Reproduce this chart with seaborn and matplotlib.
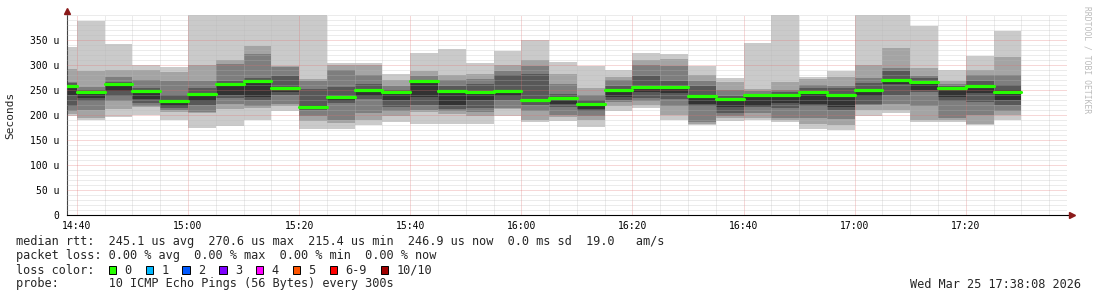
import numpy as np
import pandas as pd
import matplotlib
matplotlib.use("Agg")
import matplotlib.pyplot as plt
import matplotlib.dates as mdates
from matplotlib.patches import Rectangle
from matplotlib.ticker import FixedLocator, MultipleLocator
import seaborn as sns

# ---------------- data (microseconds) ----------------
bar_start = pd.date_range("2026-03-25 14:35", periods=35, freq="5min")
bar_end = bar_start + pd.Timedelta(minutes=5)

# 10 sorted pings per 5-minute step (p1 = fastest, p10 = slowest)
p1 = [198, 191, 196, 199, 191, 175, 179, 190, 208, 172, 172, 181, 187, 182, 183, 183, 198, 187,
      189, 177, 207, 213, 190, 180, 189, 190, 187, 172, 171, 197, 203, 187, 187, 180, 191]
p2 = [202, 194, 212, 215, 205, 203, 212, 213, 217, 188, 185, 191, 197, 205, 202, 198, 211, 190,
      195, 190, 217, 220, 200, 183, 193, 193, 190, 182, 180, 210, 210, 190, 190, 183, 200]
p3 = [207, 209, 227, 218, 210, 205, 222, 217, 221, 197, 190, 203, 207, 210, 207, 205, 213, 207,
      200, 197, 225, 228, 217, 186, 197, 203, 194, 193, 192, 220, 222, 217, 193, 200, 207]
p4 = [218, 227, 238, 223, 214, 220, 233, 229, 239, 210, 223, 232, 215, 220, 212, 214, 230, 220,
      215, 207, 230, 233, 232, 218, 203, 215, 213, 218, 210, 222, 240, 245, 227, 225, 220]
p5 = [240, 233, 248, 232, 218, 228, 240, 235, 245, 213, 228, 238, 229, 235, 220, 230, 238, 225,
      222, 211, 235, 245, 243, 222, 216, 218, 223, 222, 215, 238, 262, 250, 235, 243, 230]
p6 = [260, 246, 262, 248, 227, 242, 260, 266, 254, 220, 236, 250, 246, 267, 248, 246, 247, 230,
      234, 222, 248, 256, 256, 236, 230, 238, 240, 244, 238, 248, 271, 266, 254, 258, 250]
p7 = [263, 250, 265, 254, 240, 253, 268, 273, 277, 252, 255, 262, 250, 268, 258, 262, 280, 281,
      242, 229, 258, 278, 268, 258, 238, 242, 245, 254, 253, 263, 287, 273, 258, 268, 260]
p8 = [266, 255, 276, 270, 267, 268, 301, 322, 295, 268, 290, 280, 257, 278, 270, 272, 288, 298,
      262, 240, 270, 300, 298, 268, 250, 248, 250, 260, 258, 273, 293, 277, 262, 280, 280]
p9 = [291, 287, 290, 290, 285, 299, 310, 337, 298, 272, 300, 299, 270, 287, 280, 282, 300, 310,
      282, 253, 276, 310, 311, 280, 266, 252, 266, 272, 276, 300, 334, 294, 267, 290, 316]
p10 = [336, 388, 342, 300, 296, 450, 460, 470, 480, 490, 303, 303, 282, 324, 331, 303, 328, 350,
       305, 298, 290, 323, 321, 298, 273, 343, 500, 276, 287, 520, 480, 379, 289, 318, 368]
median_rtt = [258, 245, 261, 247, 227, 241, 261, 267, 253, 215.4, 235, 250, 245, 267, 247, 245,
              248, 229, 233, 221, 249, 255, 256, 237, 231, 239, 240, 245, 239, 249, 270.6, 265,
              253, 257, 246.9]

y_ticks = [0, 50, 100, 150, 200, 250, 300, 350]
y_tick_labels = ["0", "50 u", "100 u", "150 u", "200 u", "250 u", "300 u", "350 u"]

loss_labels = ["0", "1", "2", "3", "4", "5", "6-9", "10/10"]
loss_colors = ["#26ff00", "#00b8ff", "#0059ff", "#7e00ff", "#ff00ff", "#ff5500", "#ff0000", "#a00000"]

legend_lines = [
    "median rtt:  245.1 us avg  270.6 us max  215.4 us min  246.9 us now  0.0 ms sd  19.0   am/s",
    "packet loss: 0.00 % avg  0.00 % max  0.00 % min  0.00 % now",
    "loss color:",
    "probe:       10 ICMP Echo Pings (56 Bytes) every 300s",
]
stamp = "Wed Mar 25 17:38:08 2026"

# ---------------- style ----------------
sns.set_theme(style="white")
plt.rcParams["font.family"] = ["DejaVu Sans Mono", "DejaVu Sans"]

W, H = 1097, 297
fig = plt.figure(figsize=(W / 100, H / 100), dpi=100)
fig.patch.set_facecolor("white")
ax = fig.add_axes([66.5 / W, (H - 215) / H, 1000 / W, 200 / H])
ax.set_facecolor("white")

# smoke layers
pings = [p1, p2, p3, p4, p5, p6, p7, p8, p9, p10]
smoke_cols = ["#cacaca", "#a4a4a4", "#7e7e7e", "#585858", "#323232"]
edges = list(bar_start) + [bar_end[-1]]
for i in range(5):
    lo = np.array(pings[i], dtype=float)
    hi = np.array(pings[9 - i], dtype=float)
    ax.fill_between(edges, np.append(lo, lo[-1]), np.append(hi, hi[-1]), step="post",
                    color=smoke_cols[i], linewidth=0, zorder=1)

# median line segments (one per step)
seg = pd.DataFrame({
    "t": list(bar_start) + list(bar_end),
    "rtt": median_rtt + median_rtt,
    "step": list(range(35)) + list(range(35)),
})
sns.lineplot(data=seg, x="t", y="rtt", units="step", estimator=None, color=loss_colors[0],
             linewidth=2.3, ax=ax, zorder=4, legend=False)

# axes range
ax.set_xlim(pd.Timestamp("2026-03-25 14:38:08"), pd.Timestamp("2026-03-25 17:38:08"))
ax.set_ylim(0, 400)

ax.xaxis.set_major_locator(mdates.MinuteLocator(byminute=[0, 20, 40]))
ax.xaxis.set_minor_locator(mdates.MinuteLocator(byminute=range(0, 60, 5)))
ax.xaxis.set_major_formatter(mdates.DateFormatter("%H:%M"))
ax.yaxis.set_major_locator(FixedLocator(y_ticks))
ax.set_yticklabels(y_tick_labels)
ax.yaxis.set_minor_locator(MultipleLocator(10))

ax.set_axisbelow(False)
ax.grid(which="minor", color="#b8b8b8", alpha=0.55, linestyle=(0, (1, 1)), linewidth=0.72)
ax.grid(which="major", color="#e07070", alpha=0.55, linestyle=(0, (1, 1)), linewidth=0.72)

ax.tick_params(axis="both", which="major", direction="out", length=2.5, width=0.7,
               color="#333333", labelsize=7, labelcolor="#000000", pad=2.5)
ax.tick_params(axis="both", which="minor", direction="out", length=1.5, width=0.6,
               color="#666666")
ax.tick_params(axis="x", which="major", pad=2)
for side in ["top", "right"]:
    ax.spines[side].set_visible(False)
ax.spines["left"].set_color("#444444")
ax.spines["left"].set_linewidth(0.8)
ax.spines["bottom"].set_color("#000000")
ax.spines["bottom"].set_linewidth(0.8)
ax.set_xlabel("")
ax.set_ylabel("")

# axis arrows
ax.plot([1.0, 1.0055], [0, 0], transform=ax.transAxes, clip_on=False, color="#000000", lw=0.8)
ax.plot([1.0055], [0], transform=ax.transAxes, clip_on=False, marker=">", ms=4,
        color="#8b1a1a", lw=0)
ax.plot([0, 0], [1.0, 1.02], transform=ax.transAxes, clip_on=False, color="#444444", lw=0.8)
ax.plot([0], [1.02], transform=ax.transAxes, clip_on=False, marker="^", ms=4,
        color="#8b1a1a", lw=0)

# labels
fig.text(10 / W, 1 - 115 / H, "Seconds", rotation=90, ha="center", va="center", fontsize=8)
fig.text(1087 / W, 1 - 60 / H, "RRDTOOL / TOBI OETIKER", rotation=270, ha="center",
         va="center", fontsize=5.8, color="#bbbbbb")

# legend block
baselines = [245.5, 259.5, 273.5, 287.5]
for txt, b in zip(legend_lines, baselines):
    fig.text(15.8 / W, 1 - b / H, txt, ha="left", va="baseline", fontsize=8.6)
fig.text(1081 / W, 1 - baselines[3] / H, stamp, ha="right", va="baseline", fontsize=8.6)

box_x = [108.7, 145.5, 182.3, 219.1, 255.9, 292.7, 329.5, 380.6]
for bx, col, lab in zip(box_x, loss_colors, loss_labels):
    fig.add_artist(Rectangle((bx / W, 1 - 273.5 / H), 7.5 / W, 8 / H, transform=fig.transFigure,
                             facecolor=col, edgecolor="#000000", linewidth=0.7))
    fig.text((bx + 15.8) / W, 1 - baselines[2] / H, lab, ha="left", va="baseline", fontsize=8.6)

fig.savefig("out.png", dpi=100, facecolor="white")
